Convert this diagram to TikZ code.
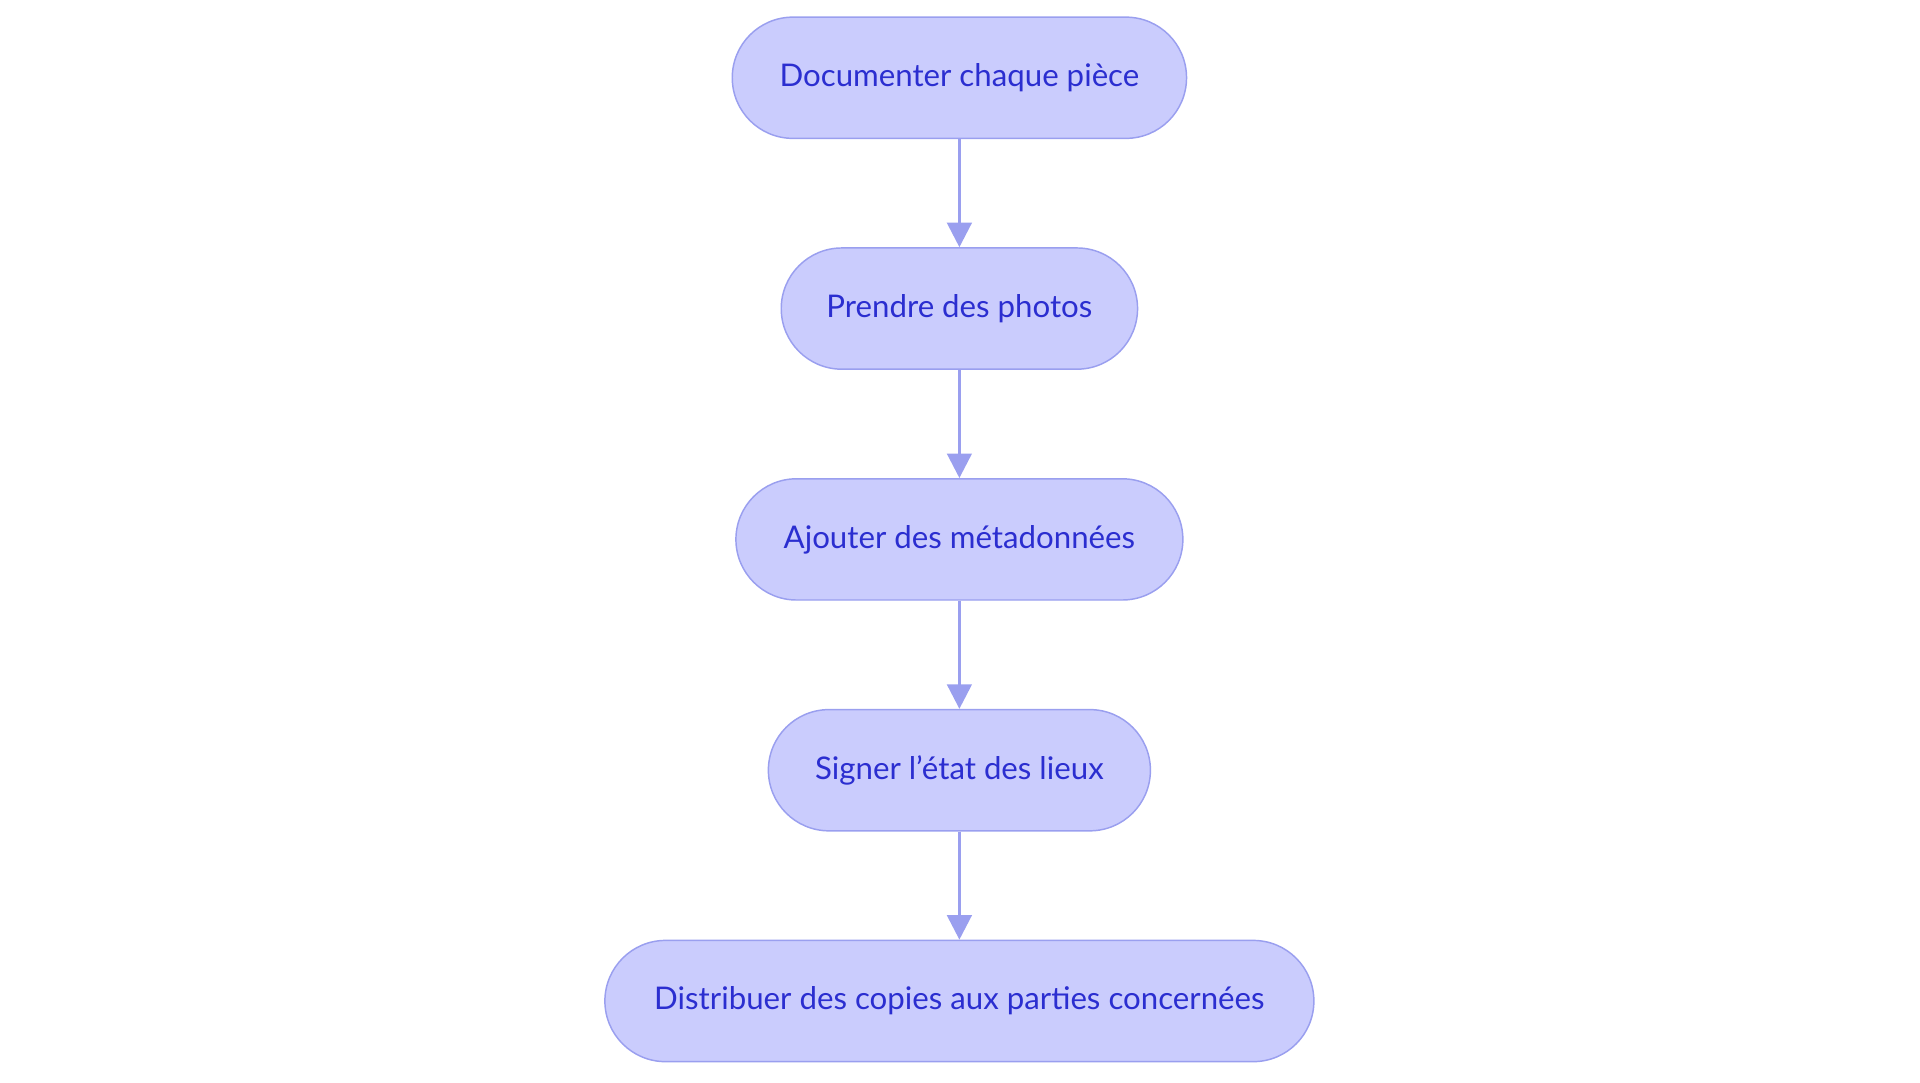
\documentclass[tikz,border=0pt]{standalone}
\usepackage{fontspec}
\setmainfont{Lato}
\usetikzlibrary{arrows.meta}
\definecolor{boxfill}{HTML}{CACCFD}
\definecolor{boxline}{HTML}{9A9FEF}
\definecolor{boxtext}{HTML}{2B2ED0}
\tikzset{
  stepbox/.style={draw=boxline, fill=boxfill, line width=1.2pt, rounded corners=49.5pt,
    minimum height=99pt, text=boxtext, font=\fontsize{25.5}{30}\selectfont, inner sep=0pt},
  link/.style={draw=boxline, line width=2.5pt, -{Triangle[length=20pt,width=20pt]}}
}
\begin{document}
\begin{tikzpicture}[x=1pt,y=-1pt]
\useasboundingbox (0,0) rectangle (1568,884);
\node[stepbox, minimum width=371pt] (a) at (783.5,63.5) {Documenter chaque pièce};
\node[stepbox, minimum width=291pt] (b) at (783.5,252) {Prendre des photos};
\node[stepbox, minimum width=365pt] (c) at (783.5,440.5) {Ajouter des métadonnées};
\node[stepbox, minimum width=312pt] (d) at (783.5,629) {Signer l\char"0027 état des lieux};
\node[stepbox, minimum width=579pt] (e) at (783.5,817.5) {Distribuer des copies aux parties concernées};
\draw[link] (a) -- (b);
\draw[link] (b) -- (c);
\draw[link] (c) -- (d);
\draw[link] (d) -- (e);
\end{tikzpicture}
\end{document}
